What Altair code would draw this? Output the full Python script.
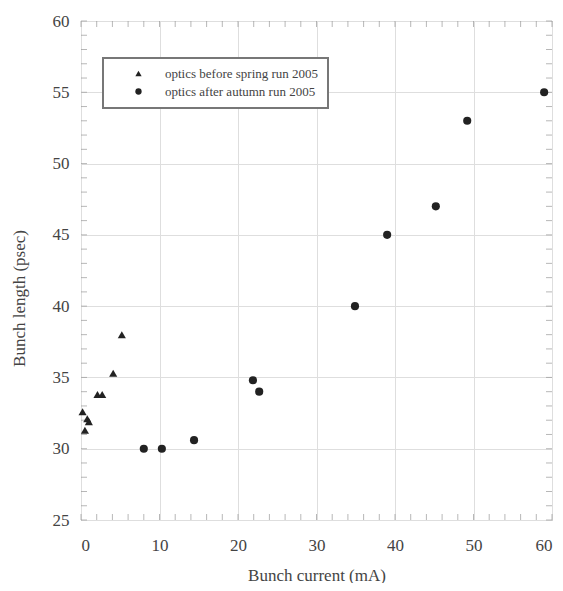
import altair as alt
import pandas as pd

# ---- data ----
spring_x = [0.2, 0.5, 0.8, 1.0, 2.1, 2.7, 4.1, 5.2]
spring_y = [32.6, 31.3, 32.1, 31.9, 33.8, 33.8, 35.3, 38.0]
autumn_x = [8.0, 10.3, 14.4, 21.9, 22.7, 34.9, 39.0, 45.2, 49.2, 59.0]
autumn_y = [30.0, 30.0, 30.6, 34.8, 34.0, 40.0, 45.0, 47.0, 53.0, 55.0]
series_names = ["optics before spring run 2005", "optics after autumn run 2005"]

x_major = [0, 10, 20, 30, 40, 50, 60]
y_major = [25, 30, 35, 40, 45, 50, 55, 60]
x_minor = list(range(0, 61, 2))
y_minor = list(range(25, 61, 1))

W, H = 471, 499
FONT = "Liberation Serif, Times New Roman, serif"

df = pd.DataFrame(
    {
        "current": spring_x + autumn_x,
        "length": spring_y + autumn_y,
        "series": [series_names[0]] * len(spring_x) + [series_names[1]] * len(autumn_x),
    }
)

xs = alt.Scale(domain=[0, 60], nice=False, zero=False)
ys = alt.Scale(domain=[25, 60], nice=False, zero=False)

x_axis = alt.Axis(
    values=x_major, title="Bunch current (mA)", ticks=False, domain=False,
    grid=True, gridColor="#dedede", gridWidth=1,
    labelFont=FONT, labelFontSize=17, labelColor="#444", labelPadding=17,
    titleFont=FONT, titleFontSize=17, titleFontWeight="normal", titleColor="#444",
    titleY=47,
)
y_axis = alt.Axis(
    values=y_major, title="Bunch length (psec)", ticks=False, domain=False,
    grid=True, gridColor="#dedede", gridWidth=1,
    labelFont=FONT, labelFontSize=17, labelColor="#444", labelPadding=12,
    titleFont=FONT, titleFontSize=17, titleFontWeight="normal", titleColor="#444",
    titleX=-53, titleY=277,
)

points = alt.Chart(df).mark_point(filled=True, opacity=1, size=66, color="#222").encode(
    x=alt.X("current:Q", scale=xs, axis=x_axis),
    y=alt.Y("length:Q", scale=ys, axis=y_axis),
    shape=alt.Shape(
        "series:N",
        scale=alt.Scale(domain=series_names, range=["triangle-up", "circle"]),
        legend=alt.Legend(
            title=None, orient="none", legendX=22, legendY=37,
            strokeColor="#777", fillColor="white", padding=9,
            symbolOffset=20, labelOffset=20, rowPadding=4, labelLimit=0,
            labelFont=FONT, labelFontSize=13, labelColor="#444",
            symbolSize=40, symbolFillColor="#222", symbolStrokeWidth=0,
        ),
    ),
)

xmin_df = pd.DataFrame({"v": x_minor})
ymin_df = pd.DataFrame({"v": y_minor})
TC = "#999"

tick_bottom = alt.Chart(xmin_df).mark_tick(orient="vertical", size=6, thickness=1, color=TC).encode(
    x=alt.X("v:Q", scale=xs), y=alt.value(H - 3))
tick_top = alt.Chart(xmin_df).mark_tick(orient="vertical", size=6, thickness=1, color=TC).encode(
    x=alt.X("v:Q", scale=xs), y=alt.value(3))
tick_left = alt.Chart(ymin_df).mark_tick(orient="horizontal", size=6, thickness=1, color=TC).encode(
    y=alt.Y("v:Q", scale=ys), x=alt.value(3))
tick_right = alt.Chart(ymin_df).mark_tick(orient="horizontal", size=6, thickness=1, color=TC).encode(
    y=alt.Y("v:Q", scale=ys), x=alt.value(W - 3))

chart = (
    alt.layer(tick_bottom, tick_top, tick_left, tick_right, points)
    .properties(
        width=W, height=H,
        autosize=alt.AutoSizeParams(type="none"),
        padding={"left": 73, "top": 13, "right": 3, "bottom": 63},
        background="white",
    )
    .configure_view(stroke="#999", strokeWidth=1)
    .configure_legend(strokeWidth=2)
)

chart.save("out.html", embed_options={"renderer": "svg", "actions": False})
